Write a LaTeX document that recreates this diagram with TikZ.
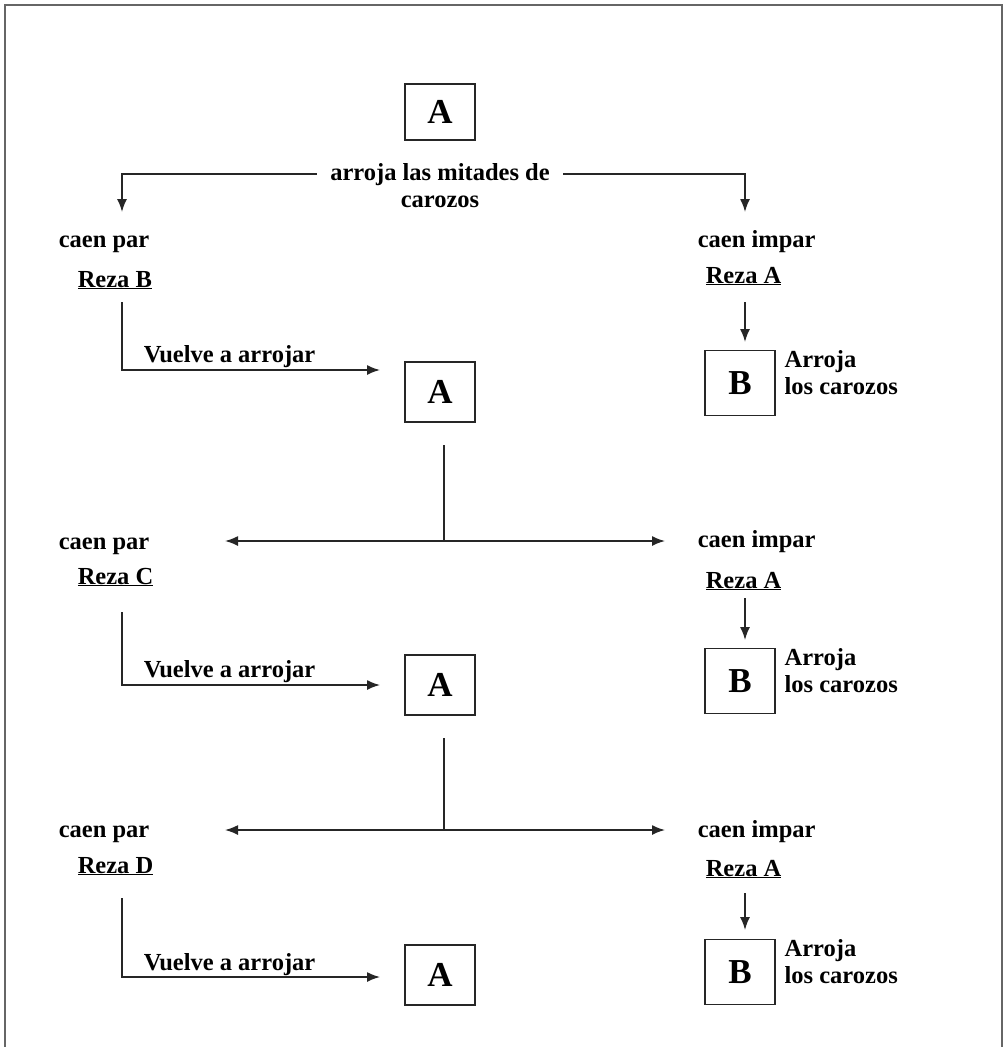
\documentclass[tikz,border=0pt]{standalone}
\usepackage{fontspec}
\setmainfont{Liberation Serif}
\usepackage{tikz}
\usetikzlibrary{arrows.meta}
\begin{document}
\begin{tikzpicture}[x=1pt,y=-1pt,line width=1.6pt,
  box/.style = {draw, draw=black!85, minimum width=70pt, minimum height=60pt, inner sep=0pt, font=\fontsize{35}{40}\selectfont\bfseries},
  lbl/.style = {anchor=base west, inner sep=0pt, font=\fontsize{24.5}{27}\selectfont\bfseries},
  note/.style = {anchor=north west, align=left, inner xsep=8pt, inner ysep=0pt, font=\fontsize{24.5}{27}\selectfont\bfseries},
  arr/.style = {draw=black!85, -{Latex[length=13pt,width=10pt]}},
  line/.style = {draw=black!85},
  frame/.style = {draw=black!60, line width=1.5pt}]
\useasboundingbox (0,0) rectangle (1004,1047);
\draw[frame] (5,1047) -- (5,5) -- (1002,5) -- (1002,1047);

% first throw
\node[box, minimum height=56pt] (a1) at (440,112) {A};
\node[lbl, anchor=base, inner xsep=13pt] (throw) at (440,180) {arroja las mitades de};
\node[lbl, anchor=base] (throw2) at (440,207) {carozos};
\coordinate (p1) at (122,212);
\coordinate (i1) at (745,212);
\draw[arr] (throw.west) -| (p1);
\draw[arr] (throw.east) -| (i1);

% row 1
\node[lbl] (par1) at (58,247) {caen par};
\node[lbl] (rezaB) at (77,287) {\underline{Reza B}};
\node[lbl] (imp1) at (697,247) {caen impar};
\node[lbl] (rezaA1) at (705,283) {\underline{Reza A}};
\node[box, minimum height=65pt] (b1) at (740,383) {B};
\node[note] (out1) at (b1.north east) {Arroja\\los carozos};
\coordinate (q1) at (745,302);
\coordinate (q1e) at (745,342);
\draw[arr] (q1) -- (q1e);
\node[box] (a2) at (440,392) {A};
\coordinate (s1) at (122,302);
\coordinate (t1) at (380,370);
\draw[arr] (s1) |- (t1);
\node[lbl] (again1) at (143,362) {Vuelve a arrojar};

% split 1
\coordinate (d1) at (444,445);
\coordinate (j1) at (444,541);
\coordinate (l1) at (225,541);
\coordinate (r1) at (665,541);
\draw[line] (d1) -- (j1);
\draw[arr] (j1) -- (l1);
\draw[arr] (j1) -- (r1);

% row 2
\node[lbl] (par2) at (58,549) {caen par};
\node[lbl] (rezaC) at (77,584) {\underline{Reza C}};
\node[lbl] (imp2) at (697,547) {caen impar};
\node[lbl] (rezaA2) at (705,588) {\underline{Reza A}};
\node[box, minimum height=65pt] (b2) at (740,681) {B};
\node[note] (out2) at (b2.north east) {Arroja\\los carozos};
\coordinate (q2) at (745,598);
\coordinate (q2e) at (745,640);
\draw[arr] (q2) -- (q2e);
\node[box] (a3) at (440,685) {A};
\coordinate (s2) at (122,612);
\coordinate (t2) at (380,685);
\draw[arr] (s2) |- (t2);
\node[lbl] (again2) at (143,677) {Vuelve a arrojar};

% split 2
\coordinate (d2) at (444,738);
\coordinate (j2) at (444,830);
\coordinate (l2) at (225,830);
\coordinate (r2) at (665,830);
\draw[line] (d2) -- (j2);
\draw[arr] (j2) -- (l2);
\draw[arr] (j2) -- (r2);

% row 3
\node[lbl] (par3) at (58,837) {caen par};
\node[lbl] (rezaD) at (77,873) {\underline{Reza D}};
\node[lbl] (imp3) at (697,837) {caen impar};
\node[lbl] (rezaA3) at (705,876) {\underline{Reza A}};
\node[box, minimum height=65pt] (b3) at (740,972) {B};
\node[note] (out3) at (b3.north east) {Arroja\\los carozos};
\coordinate (q3) at (745,893);
\coordinate (q3e) at (745,930);
\draw[arr] (q3) -- (q3e);
\node[box] (a4) at (440,975) {A};
\coordinate (s3) at (122,898);
\coordinate (t3) at (380,977);
\draw[arr] (s3) |- (t3);
\node[lbl] (again3) at (143,970) {Vuelve a arrojar};
\end{tikzpicture}
\end{document}
